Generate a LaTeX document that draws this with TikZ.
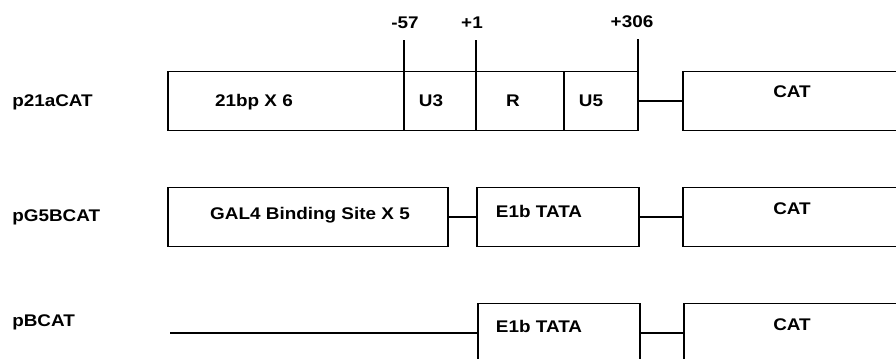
\documentclass[tikz,border=0pt]{standalone}
\usepackage{fontspec}
\setmainfont{Liberation Sans}[FakeStretch=1.12]
\usetikzlibrary{positioning, math}

\tikzset{
blk/.style={draw, line width=1pt, inner sep=0pt, outer sep=0pt, minimum height=1.47cm},
txt/.style={inner sep=0pt, font=\bfseries\fontsize{12}{14}\selectfont, text height=8.6pt, text depth=0pt},
link/.style={line width=1pt},
}

\begin{document}
\begin{tikzpicture}[x=0.025cm, y=0.025cm]
\tikzmath{
\ya=258;
\yb=142;
\yc=26;
\yt=337;
}
\useasboundingbox (0,0) rectangle (896,359);
\clip (0,0) rectangle (896,359);

%p21aCAT
\node[blk, minimum width=5.9cm] (b21) at (286,\ya) {};
\node[blk, minimum width=1.8cm, right=0pt of b21] (bU3) {};
\node[blk, minimum width=2.2cm, right=0pt of bU3] (bR) {};
\node[blk, minimum width=1.85cm, right=0pt of bR] (bU5) {};
\node[blk, minimum width=6.2cm, right=1.125cm of bU5] (cat1) {};
\draw[link] (bU5) -- (cat1);

\node[txt, anchor=west] (n1) at (12,259) {p21aCAT};
\node[txt] (t21) at (254,259) {21bp X 6};
\node[txt] (tU3) at (431,259) {U3};
\node[txt] (tR) at (513,259) {R};
\node[txt] (tU5) at (591,259) {U5};
\node[txt] (tcat1) at (792,268) {CAT};

%ticks
\coordinate[above=0.78cm of bU3.north west] (k57);
\coordinate[above=0.78cm of bR.north west] (k1);
\coordinate[above=0.82cm of bU5.north east] (k306);
\draw[link] (bU3.north west) -- (k57);
\draw[link] (bR.north west) -- (k1);
\draw[link] (bU5.north east) -- (k306);
\node[txt] (l57) at (405,\yt) {-57};
\node[txt] (l1) at (472,\yt) {+1};
\node[txt] (l306) at (632,\yt+1) {+306};

%pG5BCAT
\node[blk, minimum width=7cm] (gal) at (308,\yb) {};
\node[blk, minimum width=4.05cm, right=0.725cm of gal] (e1b2) {};
\node[blk, minimum width=6.2cm, right=1.1cm of e1b2] (cat2) {};
\draw[link] (gal) -- (e1b2);
\draw[link] (e1b2) -- (cat2);

\node[txt, anchor=west] (n2) at (12,144) {pG5BCAT};
\node[txt] (tgal) at (310,146) {GAL4 Binding Site X 5};
\node[txt] (te1b2) at (539,148) {E1b TATA};
\node[txt] (tcat2) at (792,151) {CAT};

%pBCAT
\coordinate (s3) at (170,\yc);
\node[blk, minimum width=4.05cm] (e1b3) at (559,\yc) {};
\node[blk, minimum width=6.2cm, right=1.1cm of e1b3] (cat3) {};
\draw[link] (s3) -- (e1b3);
\draw[link] (e1b3) -- (cat3);

\node[txt, anchor=west] (n3) at (12,39) {pBCAT};
\node[txt] (te1b3) at (539,33) {E1b TATA};
\node[txt] (tcat3) at (792,35) {CAT};
\end{tikzpicture}
\end{document}
